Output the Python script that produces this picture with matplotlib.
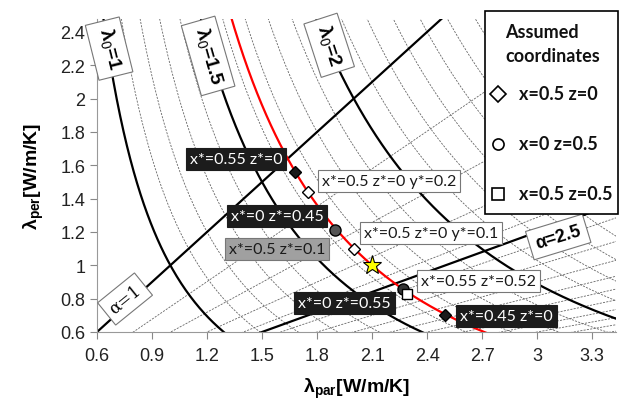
import matplotlib
matplotlib.use('Agg')
import matplotlib.pyplot as plt
import numpy as np
from matplotlib.lines import Line2D
from matplotlib.patches import Rectangle

plt.rcParams['font.family'] = ['Liberation Sans', 'DejaVu Sans']
plt.rcParams['mathtext.fontset'] = 'custom'
plt.rcParams['mathtext.rm'] = 'Liberation Sans'
plt.rcParams['mathtext.bf'] = 'Liberation Sans:bold'

# iso-lambda0 curves  (lambda_per = lambda0^3 / lambda_par^2)
lam0_main = [1.0, 1.5, 2.0]
lam0_minor = [1.1, 1.2, 1.3, 1.4, 1.6, 1.7, 1.8, 1.9, 2.1, 2.2, 2.3, 2.4,
              2.5, 2.6, 2.7, 2.8, 2.9, 3.0, 3.1]
lam0_red = 1.64
# iso-alpha lines (alpha = lambda_par / lambda_per)
alpha_main = [1.0, 2.5]
alpha_minor = [1.33, 1.67, 2.0, 2.33, 2.67, 3.0, 3.33, 3.67, 4.0, 4.33,
               4.67, 5.0, 5.33, 5.67]

# points on the red curve
pt_x = [1.68, 1.75, 1.90, 2.00, 2.27, 2.29, 2.50]
pt_y = [1.56, 1.44, 1.21, 1.10, 0.86, 0.83, 0.70]
pt_marker = ['D', 'D', 'o', 'D', 'o', 's', 'D']
pt_face = ['#1a1a1a', 'white', '#555555', 'white', '#333333', 'white', '#1a1a1a']
star_x, star_y = 2.10, 1.00

# annotation boxes
lab_text = ['x*=0.55 z*=0', 'x*=0.5 z*=0 y*=0.2', 'x*=0 z*=0.45', 'x*=0.5 z*=0.1',
            'x*=0.5 z*=0 y*=0.1', 'x*=0.55 z*=0.52', 'x*=0 z*=0.55', 'x*=0.45 z*=0']
lab_x = [1.358, 2.193, 1.582, 1.582, 2.422, 2.679, 1.948, 2.831]
lab_y = [1.638, 1.506, 1.296, 1.098, 1.194, 0.906, 0.774, 0.696]
lab_style = ['dark', 'white', 'dark', 'gray', 'white', 'white', 'dark', 'dark']

x_ticks = [0.6, 0.9, 1.2, 1.5, 1.8, 2.1, 2.4, 2.7, 3.0, 3.3]
y_ticks = [0.6, 0.8, 1.0, 1.2, 1.4, 1.6, 1.8, 2.0, 2.2, 2.4]
xmin, xmax, ymin, ymax = 0.6, 3.43, 0.6, 2.48

fig = plt.figure(figsize=(6.22, 4.02), dpi=100)
ax = fig.add_axes([97/622, 1-333/402, (616-97)/622, (333-19.6)/402])

xx = np.linspace(0.3, 4.0, 600)
for l0 in lam0_minor:
    ax.plot(xx, l0**3/xx**2, color='#666666', lw=0.6, ls=(0, (2.5, 1.5)), zorder=1)
for a in alpha_minor:
    ax.plot(xx, xx/a, color='#666666', lw=0.6, ls=(0, (2.5, 1.5)), zorder=1)
for l0 in lam0_main:
    ax.plot(xx, l0**3/xx**2, color='black', lw=1.6, zorder=2)
for a in alpha_main:
    ax.plot(xx, xx/a, color='black', lw=1.6, zorder=2)
ax.plot(xx, lam0_red**3/xx**2, color='red', lw=1.6, zorder=3)

for x, y, m, fc in zip(pt_x, pt_y, pt_marker, pt_face):
    ms = {'D': 6.5, 'o': 8, 's': 6.5}[m]
    ax.plot([x], [y], marker=m, ms=ms, mfc=fc, mec='black', mew=1, ls='none', zorder=5)
ax.plot([star_x], [star_y], marker='*', ms=14, mfc='#ffff00', mec='black', mew=0.8,
        ls='none', zorder=6)

styles = {
    'dark': dict(fc='#1c1c1c', ec='#1c1c1c', tc='white'),
    'white': dict(fc='white', ec='#777777', tc='#1a1a1a'),
    'gray': dict(fc='#a0a0a0', ec='#777777', tc='#1a1a1a'),
}
for t, x, y, s in zip(lab_text, lab_x, lab_y, lab_style):
    st = styles[s]
    ax.text(x, y, t, ha='center', va='center', fontsize=11.5, family=['Lato', 'DejaVu Sans'],
            color=st['tc'], zorder=7,
            bbox=dict(boxstyle='square,pad=0.25', fc=st['fc'], ec=st['ec'], lw=0.8))

# curve labels
box = dict(boxstyle='square,pad=0.35', fc='white', ec='#777777', lw=0.8)
ax.text(0.666, 2.30, 'λ$_0$=1', rotation=-76, ha='center', va='center', fontsize=14,
        fontweight='bold', bbox=box, zorder=8)
ax.text(1.206, 2.256, 'λ$_0$=1.5', rotation=-74, ha='center', va='center', fontsize=14,
        fontweight='bold', bbox=box, zorder=8)
ax.text(1.866, 2.32, 'λ$_0$=2', rotation=-72, ha='center', va='center', fontsize=14,
        fontweight='bold', bbox=box, zorder=8)
ax.text(0.753, 0.798, 'α=1', rotation=39, ha='center', va='center', fontsize=12,
        family=['DejaVu Serif'], bbox=box, zorder=8)
ax.text(3.115, 1.17, 'α=2.5', rotation=17, ha='center', va='center', fontsize=13,
        fontweight='bold', bbox=box, zorder=8)

ax.set_xlim(xmin, xmax)
ax.set_ylim(ymin, ymax)
ax.set_xticks(x_ticks)
ax.set_yticks(y_ticks)
ax.set_xticklabels(['%g' % v for v in x_ticks])
ax.set_yticklabels(['%g' % v for v in y_ticks])
ax.tick_params(labelsize=13, direction='out', length=5, color='#888888', labelcolor='#222222')
ax.tick_params(axis='x', pad=6)
for side in ['top', 'right']:
    ax.spines[side].set_visible(False)
for side in ['left', 'bottom']:
    ax.spines[side].set_color('#999999')
ax.set_xlabel(r'λ$_{\mathbf{par}}$[W/m/K]', fontsize=14, fontweight='bold', labelpad=8)
ax.set_ylabel(r'λ$_{\mathbf{per}}$[W/m/K]', fontsize=14, fontweight='bold', labelpad=10)

# legend box
W, H = 622, 402
fig.add_artist(Rectangle((485/W, 1-215/H), (618-485)/W, (215-12)/H, transform=fig.transFigure,
                         fc='white', ec='black', lw=1.2, zorder=5))
fig.text(505/W, 1-32/H, 'Assumed', fontsize=13, fontweight='bold', va='center',
         family=['Lato', 'DejaVu Sans'], color='#111111', zorder=6)
fig.text(505/W, 1-57/H, 'coordinates', fontsize=13, fontweight='bold', va='center',
         family=['Lato', 'DejaVu Sans'], color='#111111', zorder=6)
leg_marker = ['D', 'o', 's']
leg_text = ['x=0.5 z=0', 'x=0 z=0.5', 'x=0.5 z=0.5']
leg_y = [95, 145, 195]
for m, t, yy in zip(leg_marker, leg_text, leg_y):
    fig.add_artist(Line2D([498/W], [1-yy/H], transform=fig.transFigure, marker=m, ms=8,
                          mfc='white', mec='black', mew=1.2, ls='none', zorder=6))
    fig.text(519/W, 1-yy/H, t, fontsize=13, fontweight='bold', va='center',
             family=['Lato', 'DejaVu Sans'], color='#111111', zorder=6)

fig.savefig('out.png', dpi=100)
